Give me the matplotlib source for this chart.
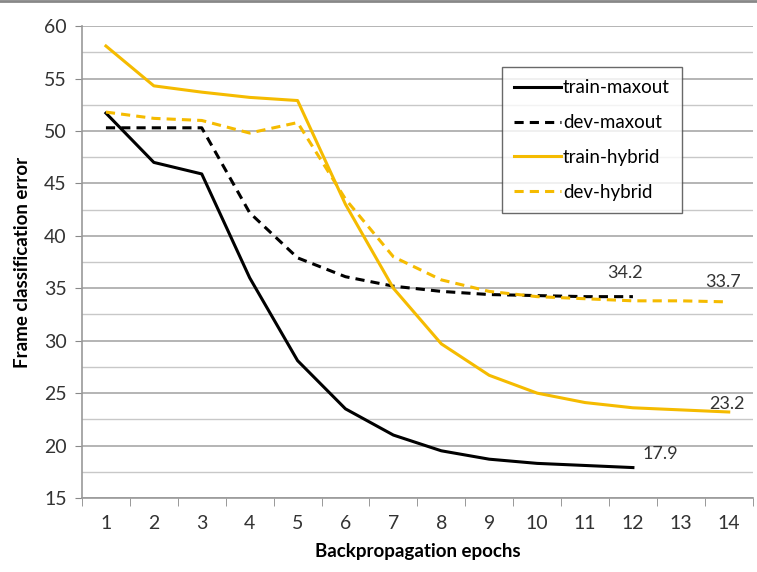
import numpy as np
import matplotlib.pyplot as plt
from matplotlib.lines import Line2D

plt.rcParams['font.family'] = ['Lato', 'DejaVu Sans']

# Data
epochs = list(range(1, 15))
train_maxout = [51.7, 47.0, 45.9, 36.0, 28.1, 23.5, 21.0, 19.5, 18.7, 18.3, 18.1, 17.9]
dev_maxout = [50.3, 50.3, 50.3, 42.2, 37.9, 36.1, 35.2, 34.7, 34.4, 34.3, 34.2, 34.2]
train_hybrid = [58.1, 54.3, 53.7, 53.2, 52.9, 43.0, 35.0, 29.7, 26.7, 25.0, 24.1, 23.6, 23.4, 23.2]
dev_hybrid = [51.8, 51.2, 51.0, 49.8, 50.8, 43.5, 38.0, 35.8, 34.7, 34.2, 34.0, 33.8, 33.8, 33.7]

gold = '#F5BB00'

fig = plt.figure(figsize=(7.57, 5.72), dpi=100)
ax = fig.add_axes([0.1083, 0.1294, 0.886, 0.825])

ax.plot(epochs[:len(train_maxout)], train_maxout, color='black', lw=2.2, label='train-maxout')
ax.plot(epochs[:len(dev_maxout)], dev_maxout, color='black', lw=2.2, ls=(0, (3, 2)), label='dev-maxout')
ax.plot(epochs, train_hybrid, color=gold, lw=2.2, label='train-hybrid')
ax.plot(epochs, dev_hybrid, color=gold, lw=2.2, ls=(0, (3, 2)), label='dev-hybrid')

# end-point labels
lab = dict(textcoords='offset points', ha='center', va='center', fontsize=13, color='#333333')
ax.annotate(f"{dev_maxout[-1]}", (12, dev_maxout[-1]), xytext=(-6, 17), **lab)
ax.annotate(f"{dev_hybrid[-1]}", (14, dev_hybrid[-1]), xytext=(-4, 14), **lab)
ax.annotate(f"{train_hybrid[-1]}", (14, train_hybrid[-1]), xytext=(-1, 6), **lab)
ax.annotate(f"{train_maxout[-1]}", (12, train_maxout[-1]), xytext=(20, 10), **lab)

ax.set_xlim(0.5, 14.5)
ax.set_ylim(15, 60)
ax.set_xticks(epochs)
ax.set_xticks(np.arange(0.5, 15, 1), minor=True)
ax.set_yticks(np.arange(15, 61, 5))
ax.set_yticks(np.arange(17.5, 60, 5), minor=True)
ax.tick_params(axis='x', which='major', length=0, pad=12, labelsize=14, labelcolor='#333333')
ax.tick_params(axis='x', which='minor', length=6, color='#888888', direction='out')
ax.tick_params(axis='y', which='major', length=5, color='#888888', pad=6, labelsize=14, labelcolor='#333333')
ax.tick_params(axis='y', which='minor', length=0)

ax.grid(axis='y', which='major', color='#a8a8a8', lw=1.2)
ax.grid(axis='y', which='minor', color='#c8c8c8', lw=1.0)
ax.set_axisbelow(True)
for s in ['top', 'right']:
    ax.spines[s].set_visible(False)
for s in ['left', 'bottom']:
    ax.spines[s].set_color('#999999')
    ax.spines[s].set_linewidth(1.2)

ax.set_xlabel('Backpropagation epochs', fontsize=13.5, fontweight='bold', labelpad=8)
ax.set_ylabel('Frame classification error', fontsize=13.5, fontweight='bold', labelpad=9)

leg = ax.legend(loc='upper left', bbox_to_anchor=(0.626, 0.913), fontsize=13.5, frameon=True,
                fancybox=False, edgecolor='#444444', handlelength=2.5, handletextpad=0.1,
                labelspacing=0.95, borderpad=0.65, borderaxespad=0)
leg.get_frame().set_linewidth(1.0)

fig.add_artist(Line2D([0, 1], [0.998, 0.998], color='#888888', lw=2, transform=fig.transFigure))

fig.savefig('out.png', dpi=100)
